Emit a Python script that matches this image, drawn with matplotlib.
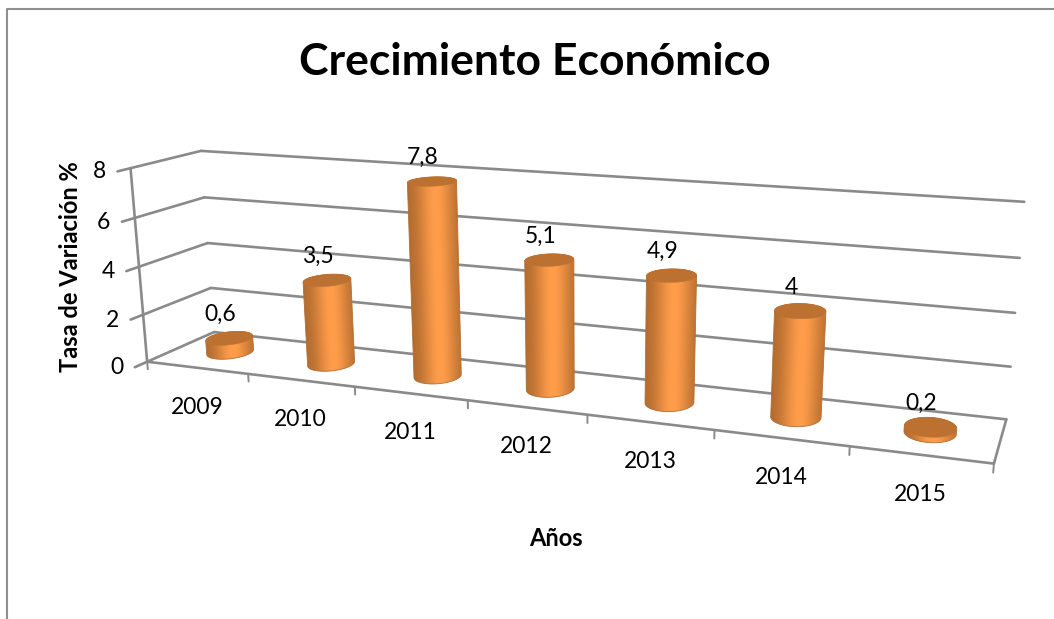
import numpy as np
import matplotlib
matplotlib.use("Agg")
import matplotlib.pyplot as plt
from matplotlib.colors import LinearSegmentedColormap
from matplotlib.patches import Polygon

# ---- data ----
years = ["2009", "2010", "2011", "2012", "2013", "2014", "2015"]
growth = [0.6, 3.5, 7.8, 5.1, 4.9, 4, 0.2]
growth_labels = ["0,6", "3,5", "7,8", "5,1", "4,9", "4", "0,2"]
y_ticks = [0, 2, 4, 6, 8]
title = "Crecimiento Económico"
y_label = "Tasa de Variación %"
x_label = "Años"

# ---- camera calibration: (category, value, depth) -> pixel ----
cal_3d = [(0,8,0),(0,6,0),(0,4,0),(0,2,0),(0,0,0),
          (0,8,1),(0,6,1),(0,4,1),(0,2,1),(0,0,1),
          (7,8,1),(7,6,1),(7,4,1),(7,2,1),(7,0,1),
          (7,0,0),(1,0,0),(2,0,0),(3,0,0),(6,0,0)]
cal_px = [(131,168),(135,218),(139,267),(143,314),(147,362),
          (200,151),(205,197),(208,243),(210,288),(215,332),
          (1024,202),(1020,258),(1015,313),(1011,367),(1006,419),
          (994,463),(248,374),(355,387),(467,401),(850,446)]

def fit_camera(P, Q):
    A, b = [], []
    for (X, Y, Z), (x, y) in zip(P, Q):
        A.append([X, Y, Z, 1, 0, 0, 0, 0, -x*X, -x*Y, -x*Z]); b.append(x)
        A.append([0, 0, 0, 0, X, Y, Z, 1, -y*X, -y*Y, -y*Z]); b.append(y)
    m = np.linalg.lstsq(np.array(A, float), np.array(b, float), rcond=None)[0]
    return np.append(m, 1.0).reshape(3, 4)

CAM = fit_camera(cal_3d, cal_px)

def project(u, v, d):
    u, v, d = np.broadcast_arrays(np.asarray(u, float), np.asarray(v, float), np.asarray(d, float))
    h = CAM @ np.stack([u.ravel(), v.ravel(), d.ravel(), np.ones(u.size)])
    return h[0] / h[2], h[1] / h[2]

def convex_hull(pts):
    pts = sorted(set(map(tuple, pts)))
    def half(seq):
        out = []
        for p in seq:
            while len(out) > 1 and ((out[-1][0]-out[-2][0])*(p[1]-out[-2][1])
                                    - (out[-1][1]-out[-2][1])*(p[0]-out[-2][0])) <= 0:
                out.pop()
            out.append(p)
        return out[:-1]
    return half(pts) + half(pts[::-1])

plt.rcParams["font.family"] = ["Lato", "DejaVu Sans"]
fig = plt.figure(figsize=(10.54, 6.19), dpi=100, facecolor="white")
ax = fig.add_axes([0, 0, 1, 1])
ax.set_xlim(0, 1054)
ax.set_ylim(619, 0)
ax.axis("off")

GRID = "#8a8a8a"
LABEL_FS = 16.5
def seg(p, q, lw=1.9, z=1):
    x, y = project(*zip(p, q))
    ax.plot(x, y, color=GRID, lw=lw, solid_capstyle="round", zorder=z)

# chart frame
ax.plot([6.5, 6.5, 1054], [619, 8.5, 8.5], color="#8f8f8f", lw=1.5, zorder=1)

n = len(years)
# walls
for t in y_ticks:
    seg((0, t, 0), (0, t, 1))
    seg((0, t, 1), (n, t, 1))
    seg((0, t, -0.17), (0, t, 0))
    x, y = project(0, t, -0.17)
    ax.text(x[0] - 11.5, y[0] + 0.5, str(t), ha="right", va="center", fontsize=LABEL_FS, color="black", zorder=5)
seg((0, 0, 0), (0, 8, 0))
seg((0, 0, 0), (n, 0, 0))
seg((n, 0, 0), (n, 0, 1))
for i in range(n + 1):
    seg((i, 0, 0), (i, -0.32, 0), lw=1.4)
for i, yr in enumerate(years):
    x, y = project(i + 0.5, 0, 0)
    ax.text(x[0], y[0] + 39.5, yr, ha="center", va="center", fontsize=LABEL_FS, color="black", zorder=5)

# cylinders
RU, RD = 0.187, 0.225
shade = LinearSegmentedColormap.from_list("barshade", ["#ad682d", "#ff9d4a"])
th = np.linspace(0, 2 * np.pi, 145)
for i, val in enumerate(growth):
    uc, dc = i + 0.5, 0.5
    bx, by = project(uc + RU * np.cos(th), 0.0, dc + RD * np.sin(th))
    tx, ty = project(uc + RU * np.cos(th), val, dc + RD * np.sin(th))
    hull = convex_hull(np.round(np.c_[np.r_[bx, tx], np.r_[by, ty]], 3))
    x0, x1 = int(min(np.r_[bx, tx])) - 2, int(max(np.r_[bx, tx])) + 3
    y0, y1 = int(min(np.r_[by, ty])) - 2, int(max(np.r_[by, ty])) + 3
    xs = np.arange(x0, x1, 0.5)
    ys = np.arange(y0, y1, 0.5)
    X, Y = np.meshgrid(xs, ys)
    cb = 0.5 * (bx.min() + bx.max()); hb = 0.5 * (bx.max() - bx.min())
    ct = 0.5 * (tx.min() + tx.max()); ht = 0.5 * (tx.max() - tx.min())
    a = np.clip((Y - ty.mean()) / max(by.mean() - ty.mean(), 1.0), 0, 1)
    s = (X - (ct + a * (cb - ct))) / (ht + a * (hb - ht))
    F = np.exp(-((np.clip(s, -1.1, 1.1) - 0.12) / 0.72) ** 2)
    clip = Polygon(hull, closed=True, transform=ax.transData, fc="none", ec="none")
    ax.add_patch(clip)
    im = ax.imshow(F, extent=(x0 - 0.25, x1 - 0.25, y1 - 0.25, y0 - 0.25), cmap=shade, vmin=0, vmax=1,
                   aspect="auto", interpolation="bilinear", zorder=3)
    im.set_clip_path(clip)
    ax.add_patch(Polygon(hull, closed=True, fc="none", ec="#b06f36", lw=0.6, zorder=3.2))
    ax.fill(tx, ty, color="#bc7131", lw=0.3, zorder=3.5)
    lx, ly = project(uc, val, dc)
    ax.text(lx[0] - 9, ly[0] - 24, growth_labels[i], ha="center", va="center",
            fontsize=LABEL_FS, color="black", zorder=6)

ax.set_xlim(0, 1054)
ax.set_ylim(619, 0)

# titles
ax.text(535, 62, title, ha="center", va="center", fontsize=32, fontweight="bold", color="black")
ax.text(71, 267, y_label, ha="center", va="center", rotation=90, fontsize=17, fontweight="bold", color="black")
ax.text(556, 539, x_label, ha="center", va="center", fontsize=17, fontweight="bold", color="black")

fig.savefig("out.png", dpi=100)
